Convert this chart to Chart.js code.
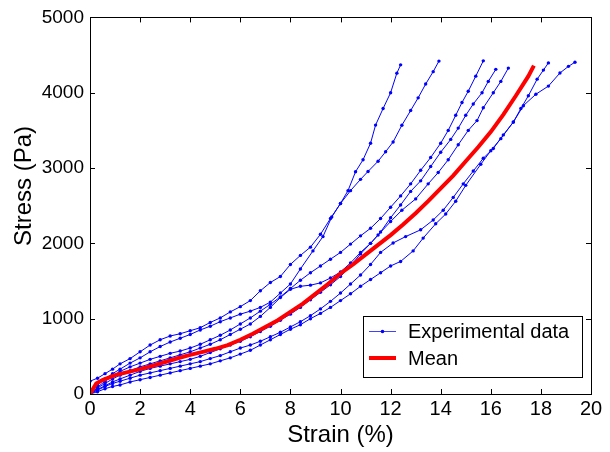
<!DOCTYPE html>
<html>
<head>
<meta charset="utf-8">
<script src="https://cdn.jsdelivr.net/npm/chart.js@4/dist/chart.umd.min.js"></script>
<style>
html,body{margin:0;padding:0;background:#fff;}
#wrap{width:610px;height:452px;position:relative;}
</style>
</head>
<body>
<div id="wrap"><canvas id="c" width="610" height="452"></canvas></div>
<script>
// ---- tick labels ----
const strainTicks = [0,2,4,6,8,10,12,14,16,18,20];
const stressTicks = [0,1000,2000,3000,4000,5000];

// ---- series: [strain %, stress Pa] ----
const specimen1 = [[0,170],[0.3,210],[0.6,270],[0.9,330],[1.2,400],[1.6,470],[2,560],[2.4,650],[2.8,720],[3.2,770],[3.6,800],[4,840],[4.4,880],[4.8,950],[5.2,1010],[5.6,1090],[6,1160],[6.4,1240],[6.8,1370],[7.2,1480],[7.6,1560],[8,1720],[8.4,1840],[8.8,1950],[9.2,2120],[9.6,2330],[10,2530],[10.3,2700],[10.6,2950],[10.9,3110],[11.2,3330],[11.4,3570],[11.7,3790],[12,4000],[12.25,4260],[12.4,4370]];
const specimen2 = [[0,0],[0.3,120],[0.6,200],[0.9,270],[1.2,330],[1.6,410],[2,480],[2.4,560],[2.8,630],[3.2,690],[3.6,740],[4,790],[4.4,850],[4.8,900],[5.2,960],[5.6,1010],[6,1060],[6.4,1100],[6.8,1150],[7.2,1220],[7.6,1340],[8,1460],[8.4,1660],[8.9,1900],[9.3,2090],[9.65,2350],[10,2530],[10.4,2700],[10.8,2850],[11.1,2955],[11.5,3090],[11.8,3216],[12.1,3346],[12.45,3568],[12.8,3763],[13.1,3932],[13.4,4115],[13.7,4280],[13.93,4420]];
const specimen3 = [[0,0],[0.3,90],[0.6,170],[0.9,240],[1.2,300],[1.6,360],[2,410],[2.4,460],[2.8,500],[3.2,540],[3.6,570],[4,610],[4.4,660],[4.8,720],[5.2,780],[5.6,850],[6,930],[6.4,1010],[6.8,1100],[7.2,1190],[7.6,1290],[8,1400],[8.4,1510],[8.8,1610],[9.2,1700],[9.6,1790],[10,1880],[10.4,1990],[10.8,2100],[11.2,2200],[11.6,2330],[12,2480],[12.4,2630],[12.8,2790],[13.2,2970],[13.6,3140],[14,3330],[14.3,3500],[14.6,3700],[14.85,3870],[15.1,4020],[15.4,4220],[15.7,4423]];
const specimen4 = [[0,0],[0.3,80],[0.6,140],[0.9,200],[1.2,250],[1.6,310],[2,360],[2.4,400],[2.8,440],[3.2,480],[3.6,520],[4,560],[4.4,610],[4.8,660],[5.2,720],[5.6,790],[6,860],[6.4,930],[6.8,1030],[7.2,1150],[7.6,1280],[8,1390],[8.4,1430],[8.8,1445],[9.2,1475],[9.6,1540],[10,1620],[10.4,1740],[10.8,1880],[11.2,2000],[11.6,2150],[12,2340],[12.4,2510],[12.8,2690],[13.2,2830],[13.6,3020],[14,3210],[14.4,3380],[14.7,3530],[15,3700],[15.3,3850],[15.65,4000],[15.9,4150],[16.2,4310]];
const specimen5 = [[0,0],[0.3,60],[0.6,110],[0.9,160],[1.2,200],[1.6,250],[2,300],[2.4,340],[2.8,370],[3.2,400],[3.6,430],[4,460],[4.4,500],[4.8,550],[5.2,600],[5.6,650],[6,700],[6.4,760],[6.8,830],[7.2,900],[7.6,980],[8,1060],[8.4,1150],[8.8,1250],[9.2,1350],[9.6,1450],[10,1560],[10.4,1700],[10.8,1860],[11.2,2000],[11.5,2110],[12,2290],[12.45,2440],[13,2590],[13.5,2790],[13.9,2940],[14.3,3110],[14.7,3310],[15.1,3500],[15.45,3630],[15.7,3800],[16.1,4000],[16.4,4150],[16.7,4327]];
const specimen6 = [[0,0],[0.3,50],[0.6,100],[0.9,140],[1.2,170],[1.6,210],[2,250],[2.4,280],[2.8,310],[3.2,340],[3.6,370],[4,400],[4.4,430],[4.8,470],[5.2,510],[5.6,560],[6,610],[6.4,650],[6.8,700],[7.2,760],[7.6,820],[8,890],[8.4,960],[8.8,1040],[9.2,1130],[9.6,1230],[10,1340],[10.4,1460],[10.8,1580],[11.2,1720],[11.6,1880],[12.1,2005],[12.6,2090],[13.2,2180],[13.7,2310],[14.1,2440],[14.5,2610],[14.9,2790],[15.3,2960],[15.7,3130],[16.1,3260],[16.5,3440],[16.9,3610],[17.2,3790],[17.5,3960],[17.85,4180],[18.1,4300],[18.3,4396]];
const specimen7 = [[0,0],[0.3,30],[0.6,70],[0.9,100],[1.2,120],[1.6,160],[2,190],[2.4,220],[2.8,250],[3.2,280],[3.6,310],[4,340],[4.4,370],[4.8,400],[5.2,440],[5.6,480],[6,530],[6.4,580],[6.8,650],[7.2,720],[7.6,790],[8,860],[8.4,920],[8.8,1000],[9.2,1070],[9.6,1150],[10,1240],[10.4,1330],[10.8,1430],[11.2,1520],[11.6,1610],[12,1700],[12.4,1760],[12.9,1900],[13.3,2070],[13.8,2260],[14.2,2390],[14.6,2560],[15,2770],[15.6,3050],[16,3230],[16.4,3390],[16.9,3611],[17.3,3828],[17.8,3980],[18.3,4088],[18.76,4262],[19.1,4350],[19.36,4405]];
const meanCurve = [[0,0],[0.25,140],[0.5,185],[1,250],[1.5,290],[2,330],[2.5,375],[3,425],[3.5,475],[4,520],[4.5,560],[5,600],[5.5,650],[6,720],[6.5,800],[7,890],[7.5,980],[8,1090],[8.5,1200],[9,1330],[9.5,1460],[10,1600],[10.5,1720],[11,1850],[11.5,1980],[12,2110],[12.5,2250],[13,2400],[13.5,2560],[14,2730],[14.5,2900],[15,3090],[15.5,3280],[16,3480],[16.5,3710],[17,3960],[17.5,4220],[17.72,4360]];

const specimens = [specimen1,specimen2,specimen3,specimen4,specimen5,specimen6,specimen7];
const legendLabels = ['Experimental data','Mean'];
const axisTitles = ['Strain (%)','Stress (Pa)'];

const FONT = '"Liberation Sans", Arial, Helvetica, sans-serif';
const toXY = arr => arr.map(p => ({x:p[0], y:p[1]}));

const datasets = [{
  label: legendLabels[1], data: toXY(meanCurve), showLine: true,
  borderColor: '#ff0000', backgroundColor: '#ff0000', borderWidth: 4,
  pointRadius: 0, tension: 0, order: 0
}];
specimens.forEach((s,i) => datasets.push({
  label: legendLabels[0] + ' ' + (i+1), data: toXY(s), showLine: true,
  borderColor: '#0000ff', backgroundColor: '#0000ff', borderWidth: 1,
  pointRadius: 1.7, pointBorderWidth: 0, pointStyle: 'circle', tension: 0, order: 1
}));

const framePlugin = {
  id: 'frame',
  afterDraw(chart) {
    const ctx = chart.ctx, a = chart.chartArea;
    const xs = chart.scales.x, ys = chart.scales.y;
    ctx.save();
    ctx.strokeStyle = '#000'; ctx.lineWidth = 1;
    ctx.strokeRect(Math.round(a.left)+0.5, Math.round(a.top)+0.5, Math.round(a.right-a.left), Math.round(a.bottom-a.top));
    const L = 5;
    ctx.beginPath();
    strainTicks.forEach(v => {
      const px = Math.round(xs.getPixelForValue(v)) + 0.5;
      ctx.moveTo(px, a.bottom); ctx.lineTo(px, a.bottom - L);
      ctx.moveTo(px, a.top); ctx.lineTo(px, a.top + L);
    });
    stressTicks.forEach(v => {
      const py = Math.round(ys.getPixelForValue(v)) + 0.5;
      ctx.moveTo(a.left, py); ctx.lineTo(a.left + L, py);
      ctx.moveTo(a.right, py); ctx.lineTo(a.right - L, py);
    });
    ctx.stroke();

    // y axis title
    ctx.fillStyle = '#000';
    ctx.font = '24px ' + FONT;
    ctx.textAlign = 'center'; ctx.textBaseline = 'middle';
    ctx.save();
    ctx.translate(24, 186);
    ctx.rotate(-Math.PI/2);
    ctx.fillText(axisTitles[1], 0, 0);
    ctx.restore();

    // legend
    const bx = 363.5, by = 316.5, bw = 219, bh = 61;
    ctx.fillStyle = '#fff';
    ctx.fillRect(bx, by, bw, bh);
    ctx.strokeStyle = '#000'; ctx.lineWidth = 1;
    ctx.strokeRect(bx, by, bw, bh);
    const r1 = 331.5, r2 = 358;
    ctx.strokeStyle = '#4040ff'; ctx.lineWidth = 1;
    ctx.beginPath(); ctx.moveTo(369, r1); ctx.lineTo(396, r1); ctx.stroke();
    ctx.fillStyle = '#0000ff';
    ctx.beginPath(); ctx.arc(382.5, r1, 1.8, 0, Math.PI*2); ctx.fill();
    ctx.strokeStyle = '#ff0000'; ctx.lineWidth = 4;
    ctx.beginPath(); ctx.moveTo(369, r2); ctx.lineTo(396, r2); ctx.stroke();
    ctx.fillStyle = '#000';
    ctx.font = '20px ' + FONT;
    ctx.textBaseline = 'middle'; ctx.textAlign = 'left';
    ctx.fillText(legendLabels[0], 408, r1 + 1);
    ctx.fillText(legendLabels[1], 408, r2 + 1);
    ctx.restore();
  }
};

new Chart(document.getElementById('c'), {
  type: 'scatter',
  data: { datasets },
  options: {
    responsive: false, animation: false,
    layout: { padding: { top: 9, right: 19, left: 0, bottom: 0 } },
    plugins: { legend: { display: false }, tooltip: { enabled: false } },
    scales: {
      x: {
        type: 'linear', min: 0, max: 20,
        afterFit(s) { s.height = 58; },
        afterBuildTicks(s) { s.ticks = strainTicks.map(v => ({value: v})); },
        grid: { display: false, drawTicks: false },
        border: { display: false },
        ticks: { color: '#000', font: { family: FONT, size: 20 }, padding: 3, maxRotation: 0, autoSkip: false, callback: v => String(v) },
        title: { display: true, text: axisTitles[0], color: '#000', font: { family: FONT, size: 24 }, padding: { top: 0, bottom: 2 } }
      },
      y: {
        type: 'linear', min: 0, max: 5000,
        afterFit(s) { s.width = 90; },
        afterBuildTicks(s) { s.ticks = stressTicks.map(v => ({value: v})); },
        grid: { display: false, drawTicks: false },
        border: { display: false },
        ticks: { color: '#000', font: { family: FONT, size: 19 }, padding: 6, autoSkip: false, callback: v => String(v) },
        title: { display: false }
      }
    }
  },
  plugins: [framePlugin]
});
</script>
</body>
</html>
